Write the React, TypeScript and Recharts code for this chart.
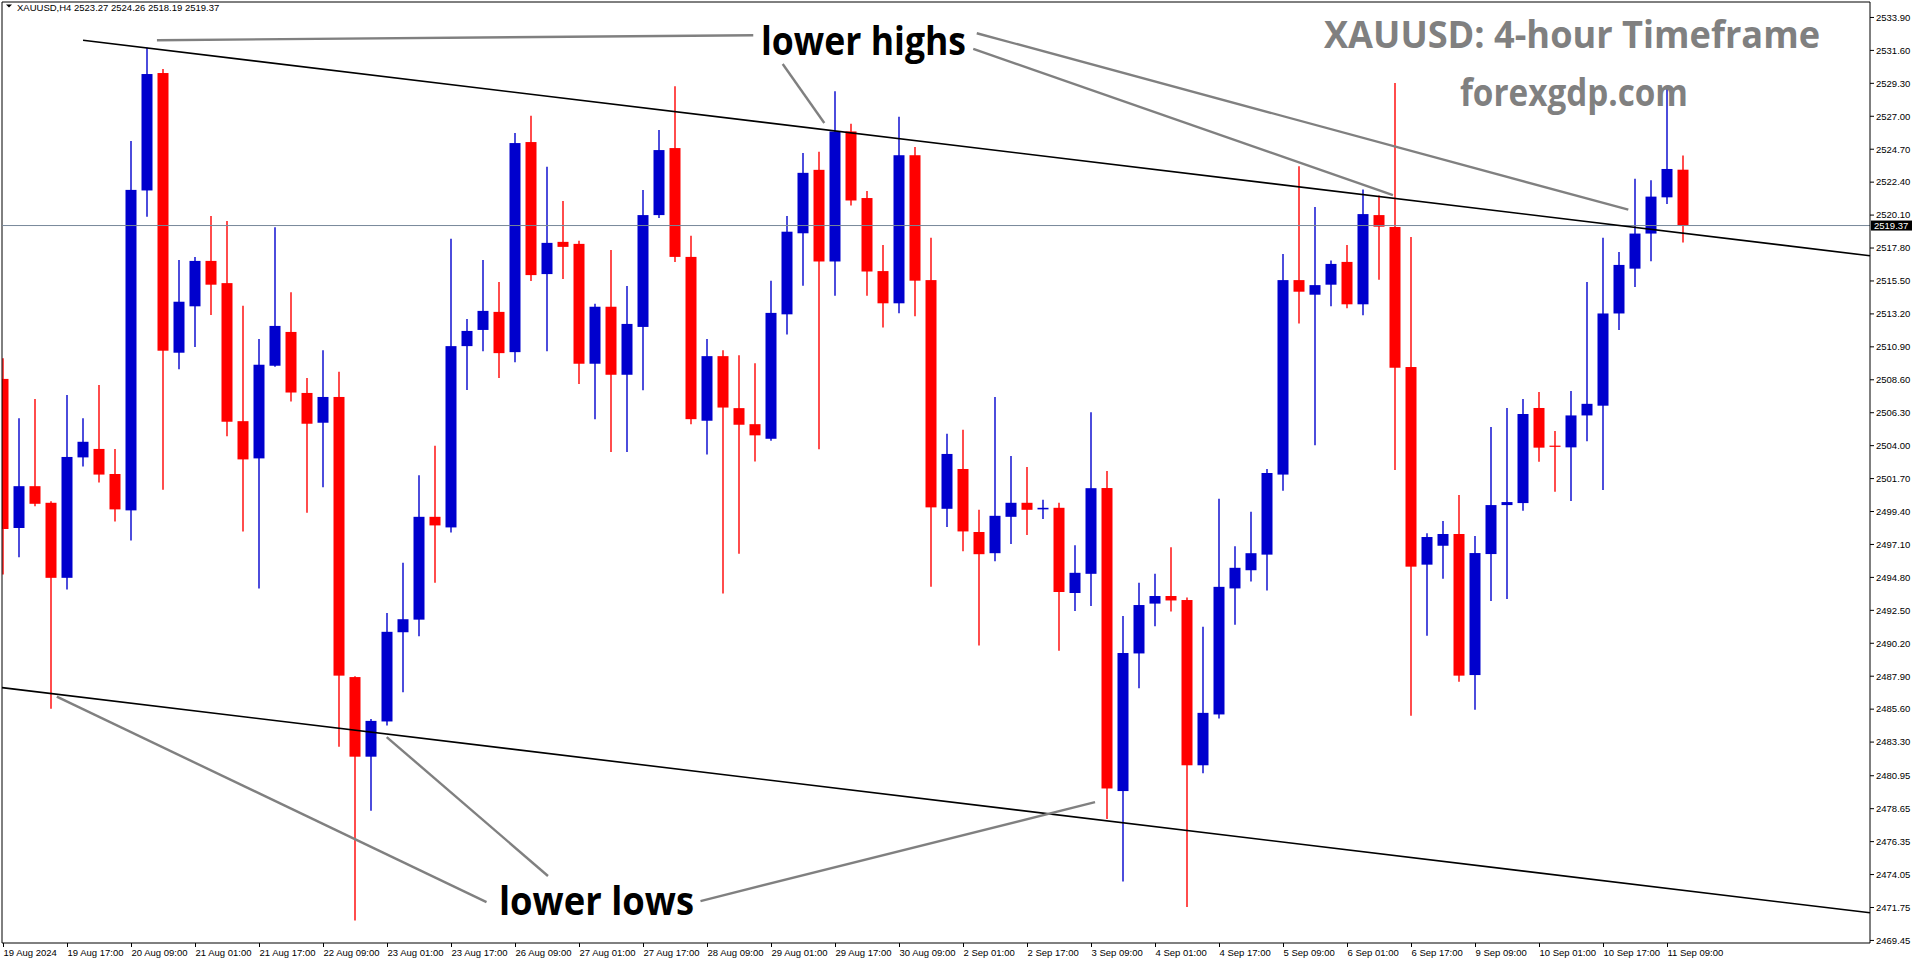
import React from 'react';
import { ComposedChart, Bar, XAxis, YAxis, ReferenceLine } from 'recharts';

// XAUUSD H4, 19 Aug 2024 01:00 .. 11 Sep 2024 13:00 (106 bars)
const opens = [
  2508.66, 2498.25, 2501.17, 2500.01, 2494.77, 2503.18, 2503.77, 2502.02, 2499.48, 2521.82,
  2530.02, 2510.49, 2513.73, 2516.9, 2515.35, 2505.71, 2503.11, 2509.58, 2511.94, 2507.68,
  2505.6, 2507.4, 2487.84, 2482.28, 2484.74, 2490.97, 2491.85, 2499.03, 2498.29, 2510.95,
  2512.08, 2513.34, 2510.53, 2525.2, 2515.98, 2518.23, 2518.09, 2509.72, 2513.7, 2508.95,
  2512.29, 2520.1, 2524.78, 2517.18, 2505.74, 2510.25, 2506.62, 2505.5, 2504.48, 2513.17,
  2518.83, 2523.26, 2516.86, 2525.94, 2521.29, 2516.19, 2513.94, 2524.28, 2515.56, 2499.59,
  2502.37, 2497.97, 2496.49, 2499.03, 2500.01, 2499.55, 2499.66, 2493.71, 2495.05, 2501.04,
  2479.88, 2489.49, 2492.97, 2493.5, 2493.22, 2481.68, 2485.23, 2494.03, 2495.3, 2496.39,
  2501.98, 2515.56, 2514.54, 2515.24, 2516.83, 2513.87, 2520.1, 2519.27, 2509.49, 2495.69,
  2497.01, 2497.83, 2487.98, 2496.43, 2499.85, 2499.99, 2506.63, 2504.0, 2503.88, 2506.11,
  2506.79, 2513.23, 2516.36, 2518.81, 2521.34, 2523.27,
];
const highs = [
  2510.11, 2505.92, 2507.26, 2500.12, 2507.54, 2505.92, 2508.24, 2503.77, 2525.27, 2531.78,
  2530.3, 2516.97, 2517.18, 2520.03, 2519.68, 2513.77, 2511.44, 2519.25, 2514.72, 2508.73,
  2510.67, 2509.16, 2487.9, 2484.92, 2492.31, 2495.82, 2501.94, 2503.99, 2518.44, 2512.85,
  2516.97, 2515.42, 2525.83, 2527.03, 2523.48, 2521.08, 2518.3, 2513.91, 2517.67, 2515.14,
  2521.86, 2526.04, 2529.1, 2518.66, 2511.44, 2510.67, 2510.32, 2509.76, 2515.52, 2520.03,
  2524.43, 2524.53, 2528.75, 2526.47, 2521.79, 2518.02, 2526.96, 2524.85, 2518.51, 2504.83,
  2505.11, 2499.52, 2507.4, 2503.28, 2502.51, 2500.22, 2500.01, 2497.05, 2506.34, 2502.23,
  2492.1, 2494.42, 2495.05, 2496.91, 2493.4, 2491.36, 2500.29, 2496.98, 2499.38, 2502.37,
  2517.39, 2523.51, 2520.66, 2516.93, 2518.02, 2521.89, 2521.47, 2529.32, 2518.57, 2497.88,
  2498.74, 2500.55, 2497.69, 2505.3, 2506.63, 2507.26, 2507.75, 2505.02, 2507.82, 2515.42,
  2518.51, 2517.52, 2522.63, 2522.54, 2529.07, 2524.26,
];
const lows = [
  2495.01, 2496.21, 2499.76, 2485.62, 2493.96, 2502.54, 2501.42, 2498.71, 2497.37, 2519.99,
  2500.92, 2509.33, 2510.88, 2513.13, 2504.65, 2498.01, 2494.03, 2509.51, 2507.08, 2499.31,
  2501.1, 2482.98, 2470.84, 2478.5, 2484.46, 2486.78, 2490.69, 2494.42, 2497.93, 2507.89,
  2510.6, 2508.73, 2509.83, 2515.49, 2510.6, 2515.63, 2508.31, 2505.85, 2503.56, 2503.56,
  2507.86, 2519.89, 2516.83, 2505.5, 2503.39, 2493.68, 2496.46, 2502.9, 2504.34, 2511.76,
  2515.17, 2503.74, 2514.47, 2520.77, 2514.47, 2512.25, 2513.24, 2513.03, 2494.14, 2498.32,
  2496.63, 2490.05, 2495.93, 2497.13, 2497.76, 2498.88, 2489.67, 2492.45, 2492.8, 2477.93,
  2473.57, 2487.06, 2491.39, 2492.41, 2471.78, 2481.12, 2484.95, 2491.5, 2494.52, 2493.89,
  2500.85, 2512.53, 2504.02, 2513.73, 2513.59, 2513.1, 2515.59, 2502.3, 2485.14, 2490.73,
  2494.71, 2487.52, 2485.56, 2493.15, 2493.29, 2499.46, 2502.88, 2500.78, 2500.14, 2504.3,
  2500.91, 2512.07, 2515.08, 2516.88, 2520.87, 2518.19,
];
const closes = [
  2498.18, 2501.17, 2499.94, 2494.77, 2503.21, 2504.27, 2501.98, 2499.55, 2521.86, 2529.95,
  2510.63, 2514.05, 2516.9, 2515.24, 2505.67, 2503.04, 2509.65, 2512.36, 2507.71, 2505.53,
  2507.4, 2487.94, 2482.28, 2484.78, 2491.0, 2491.88, 2499.03, 2498.43, 2510.95, 2512.01,
  2513.41, 2510.46, 2525.13, 2515.91, 2518.16, 2517.88, 2509.72, 2513.7, 2508.95, 2512.5,
  2520.1, 2524.64, 2517.18, 2505.85, 2510.25, 2506.66, 2505.46, 2504.72, 2513.27, 2518.94,
  2523.05, 2516.86, 2525.94, 2521.12, 2516.16, 2513.94, 2524.28, 2515.52, 2499.69, 2503.42,
  2498.01, 2496.42, 2499.1, 2500.01, 2499.52, 2499.66, 2493.78, 2495.12, 2501.03, 2480.06,
  2489.52, 2492.87, 2493.5, 2493.19, 2481.68, 2485.34, 2494.14, 2495.47, 2496.49, 2502.09,
  2515.56, 2514.75, 2515.21, 2516.69, 2513.87, 2520.17, 2519.29, 2509.44, 2495.55, 2497.62,
  2497.83, 2487.94, 2496.5, 2499.85, 2500.06, 2506.21, 2503.86, 2503.93, 2506.11, 2506.92,
  2513.23, 2516.62, 2518.81, 2521.39, 2523.32, 2519.37,
];

const dateTicks = [0, 4, 8, 12, 16, 20, 24, 28, 32, 36, 40, 44, 48, 52, 56, 60, 64, 68, 72, 76, 80, 84, 88, 92, 96, 100, 104];
const dateLabels = [
  '19 Aug 2024', '19 Aug 17:00', '20 Aug 09:00', '21 Aug 01:00', '21 Aug 17:00', '22 Aug 09:00',
  '23 Aug 01:00', '23 Aug 17:00', '26 Aug 09:00', '27 Aug 01:00', '27 Aug 17:00', '28 Aug 09:00',
  '29 Aug 01:00', '29 Aug 17:00', '30 Aug 09:00', '2 Sep 01:00', '2 Sep 17:00', '3 Sep 09:00',
  '4 Sep 01:00', '4 Sep 17:00', '5 Sep 09:00', '6 Sep 01:00', '6 Sep 17:00', '9 Sep 09:00',
  '10 Sep 01:00', '10 Sep 17:00', '11 Sep 09:00',
];
const priceTicks = [
  2533.9, 2531.6, 2529.3, 2527.0, 2524.7, 2522.4, 2520.1, 2517.8, 2515.5, 2513.2, 2510.9,
  2508.6, 2506.3, 2504.0, 2501.7, 2499.4, 2497.1, 2494.8, 2492.5, 2490.2, 2487.9, 2485.6,
  2483.3, 2480.95, 2478.65, 2476.35, 2474.05, 2471.75, 2469.45,
];
const lastPrice = 2519.37;

const X_MIN = -0.09375;
const X_MAX = 116.65625;
const Y_MIN = 2469.27;
const Y_MAX = 2534.98;

// channel lines (bar index, price)
const upperChannel = [{ x: 4.97, y: 2532.31 }, { x: X_MAX, y: 2517.26 }];
const lowerChannel = [{ x: X_MIN, y: 2487.1 }, { x: X_MAX, y: 2471.38 }];

// gray pointer lines for the labels
const pointers = [
  [{ x: 9.59, y: 2532.31 }, { x: 46.86, y: 2532.66 }],
  [{ x: 48.7, y: 2530.65 }, { x: 51.3, y: 2526.53 }],
  [{ x: 60.83, y: 2532.8 }, { x: 101.55, y: 2520.48 }],
  [{ x: 60.61, y: 2531.71 }, { x: 86.84, y: 2521.5 }],
  [{ x: 3.33, y: 2486.47 }, { x: 30.19, y: 2472.13 }],
  [{ x: 23.95, y: 2483.65 }, { x: 34.03, y: 2473.95 }],
  [{ x: 43.56, y: 2472.2 }, { x: 68.22, y: 2479.11 }],
];

const BULL = '#0000CD';
const BEAR = '#FF0000';
const AXIS_FONT = "'Liberation Sans', Arial, sans-serif";
const NOTE_FONT = "'Open Sans', 'Noto Sans', sans-serif";

const candles = opens.map((o, i) => ({
  i,
  o,
  h: highs[i],
  l: lows[i],
  c: closes[i],
  range: [lows[i], highs[i]],
}));

const Candle = (props: any) => {
  const { x, y, width, height, payload } = props;
  if (payload == null) return null;
  const { o, h, l, c } = payload;
  const top = Math.min(y, y + height);
  const hh = Math.abs(height);
  const k = hh / Math.max(h - l, 1e-6);
  const yOf = (p: number) => top + (h - p) * k;
  const color = c >= o ? BULL : BEAR;
  const cx = x + width / 2;
  const bTop = yOf(Math.max(o, c));
  const bBot = yOf(Math.min(o, c));
  return (
    <g>
      <line x1={cx} x2={cx} y1={top} y2={top + hh} stroke={color} strokeWidth={1.4} />
      <rect x={x} y={bTop} width={width} height={Math.max(bBot - bTop, 1.2)} fill={color} />
    </g>
  );
};

const DateTick = (props: any) => {
  const { x, y, payload } = props;
  const idx = dateTicks.indexOf(payload.value);
  return (
    <text x={x} y={y} dy={9} textAnchor="start" fontSize={9.5} fontFamily={AXIS_FONT} fill="#000">
      {idx >= 0 ? dateLabels[idx] : ''}
    </text>
  );
};

const PriceTick = (props: any) => {
  const { x, y, payload } = props;
  return (
    <text x={x} y={y} dy="0.35em" textAnchor="start" fontSize={9.5} fontFamily={AXIS_FONT} fill="#000">
      {Number(payload.value).toFixed(2)}
    </text>
  );
};

const PriceTag = (props: any) => {
  const vb = props.viewBox || {};
  const x = vb.x + vb.width + 1;
  const y = vb.y;
  return (
    <g>
      <rect x={x} y={y - 5} width={41} height={10} fill="#000" />
      <text x={x + 3} y={y} dy="0.35em" fontSize={9.5} fontFamily={AXIS_FONT} fill="#fff">
        {lastPrice.toFixed(2)}
      </text>
    </g>
  );
};

export default function App() {
  return (
    <div style={{ position: 'absolute', left: 0, top: 0, width: 1916, height: 964, background: '#fff', overflow: 'hidden' }}>
      <ComposedChart
        width={1916}
        height={964}
        data={candles}
        margin={{ top: 2, right: 0, bottom: 0, left: 2 }}
      >
        <XAxis
          dataKey="i"
          type="number"
          domain={[X_MIN, X_MAX]}
          allowDataOverflow
          ticks={dateTicks}
          interval={0}
          height={21}
          tickSize={4}
          tickMargin={0}
          tick={<DateTick />}
          axisLine={{ stroke: '#000' }}
          tickLine={{ stroke: '#000' }}
        />
        <YAxis
          orientation="right"
          type="number"
          domain={[Y_MIN, Y_MAX]}
          allowDataOverflow
          ticks={priceTicks}
          interval={0}
          width={46}
          tickSize={4}
          tickMargin={2}
          tick={<PriceTick />}
          axisLine={{ stroke: '#000' }}
          tickLine={{ stroke: '#000' }}
        />
        <ReferenceLine y={Y_MAX} stroke="#000" strokeWidth={1} ifOverflow="visible" />
        <ReferenceLine x={X_MIN} stroke="#000" strokeWidth={1} ifOverflow="visible" />
        <ReferenceLine y={lastPrice} stroke="#778899" strokeWidth={1} label={<PriceTag />} ifOverflow="visible" />
        <Bar dataKey="range" barSize={11} shape={<Candle />} isAnimationActive={false} />
        <ReferenceLine segment={upperChannel} stroke="#000" strokeWidth={1.6} ifOverflow="visible" />
        <ReferenceLine segment={lowerChannel} stroke="#000" strokeWidth={1.6} ifOverflow="visible" />
        {pointers.map((seg, k) => (
          <ReferenceLine key={k} segment={seg} stroke="#808080" strokeWidth={2.4} ifOverflow="visible" />
        ))}
      </ComposedChart>
      <svg width={1916} height={964} style={{ position: 'absolute', left: 0, top: 0, pointerEvents: 'none' }}>
        <polygon points="6,4.5 12,4.5 9,7.5" fill="#000" />
        <text x={17} y={11} fontSize={9.5} fontFamily={AXIS_FONT} fill="#000">
          XAUUSD,H4  2523.27 2524.26 2518.19 2519.37
        </text>
        <text x={1324} y={48} fontSize={38} fontWeight={700} fontFamily={NOTE_FONT} fill="#808080" textLength={496} lengthAdjust="spacingAndGlyphs">
          XAUUSD: 4-hour Timeframe
        </text>
        <text x={1460} y={106} fontSize={38} fontWeight={700} fontFamily={NOTE_FONT} fill="#808080" textLength={228} lengthAdjust="spacingAndGlyphs">
          forexgdp.com
        </text>
        <text x={761} y={55} fontSize={40} fontWeight={700} fontFamily={NOTE_FONT} fill="#000" textLength={205} lengthAdjust="spacingAndGlyphs">
          lower highs
        </text>
        <text x={499} y={915} fontSize={40} fontWeight={700} fontFamily={NOTE_FONT} fill="#000" textLength={195} lengthAdjust="spacingAndGlyphs">
          lower lows
        </text>
      </svg>
    </div>
  );
}
